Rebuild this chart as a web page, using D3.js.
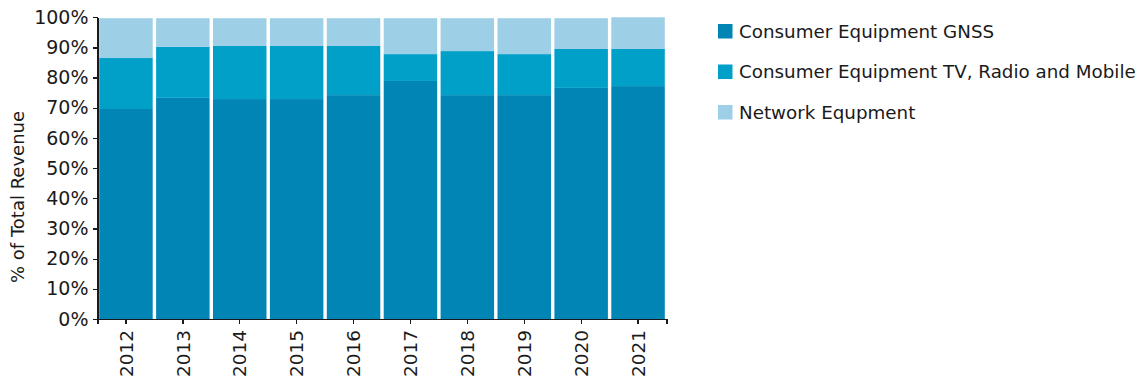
<!DOCTYPE html>
<html>
<head>
<meta charset="utf-8">
<script src="https://cdn.jsdelivr.net/npm/d3@7"></script>
<style>
  html, body { margin: 0; padding: 0; background: #fff; }
  svg { display: block; font-family: "DejaVu Sans", sans-serif; }
  .axis path, .axis line { stroke: #1a1a1a; stroke-width: 1.3; shape-rendering: crispEdges; }
  .axis text { fill: #1a1a1a; font-family: "DejaVu Sans", sans-serif; }
</style>
</head>
<body>
<svg id="chart" width="1143" height="386"></svg>
<script>
// Share of total revenue by market segment, per year (%)
const years = ["2012", "2013", "2014", "2015", "2016", "2017", "2018", "2019", "2020", "2021"];
const seriesNames = ["Consumer Equipment GNSS", "Consumer Equipment TV, Radio and Mobile", "Network Equpment"];
const gnss = [69.6, 73.3, 72.9, 72.9, 74.2, 78.9, 74.2, 74.2, 76.6, 77.2];
const tvRadioMobile = [16.9, 16.9, 17.6, 17.6, 16.3, 8.9, 14.6, 13.6, 12.9, 12.3];
const network = [13.2, 9.5, 9.2, 9.2, 9.2, 11.9, 10.9, 11.9, 10.2, 10.5];
const yTicks = [0, 10, 20, 30, 40, 50, 60, 70, 80, 90, 100];
const colors = ["#0085b5", "#00a0c9", "#9dcfe6"];

const svg = d3.select("#chart");
const plot = { left: 97.5, right: 666.5, top: 17.3, bottom: 319 };

const rows = years.map((y, i) => ({ year: y, s0: gnss[i], s1: tvRadioMobile[i], s2: network[i] }));
const stack = d3.stack().keys(["s0", "s1", "s2"])(rows);

const x = d3.scaleBand().domain(years).range([plot.left, plot.right])
  .paddingInner(0.06).paddingOuter(0.03);
const y = d3.scaleLinear().domain([0, 100]).range([plot.bottom, plot.top]);

// stacked bars
svg.append("g").selectAll("g").data(stack).join("g")
  .attr("fill", (d, i) => colors[i])
  .selectAll("rect").data(d => d).join("rect")
  .attr("x", d => x(d.data.year))
  .attr("width", x.bandwidth())
  .attr("y", d => y(d[1]))
  .attr("height", d => y(d[0]) - y(d[1]));

// y axis
const yAxis = svg.append("g").attr("class", "axis")
  .attr("transform", `translate(${plot.left},0)`)
  .call(d3.axisLeft(y).tickValues(yTicks).tickFormat(d => d + "%").tickSize(5).tickSizeOuter(0).tickPadding(4));
yAxis.selectAll("text").style("font-size", "19px");

// x axis
const xAxis = svg.append("g").attr("class", "axis")
  .attr("transform", `translate(0,${plot.bottom})`)
  .call(d3.axisBottom(x).tickSize(5).tickSizeOuter(5));
xAxis.selectAll("text")
  .style("font-size", "18.5px")
  .attr("text-anchor", "end")
  .attr("transform", "rotate(-90)")
  .attr("x", -11)
  .attr("y", 0)
  .attr("dy", "0.36em");

// y axis title
svg.append("text")
  .attr("transform", "translate(24,197) rotate(-90)")
  .attr("text-anchor", "middle")
  .attr("fill", "#1a1a1a")
  .style("font-size", "18px")
  .text("% of Total Revenue");

// legend
const legend = svg.append("g").attr("transform", "translate(718,31)");
const item = legend.selectAll("g").data(seriesNames).join("g")
  .attr("transform", (d, i) => `translate(0,${i * 40.5})`);
item.append("rect").attr("x", 0).attr("y", -7).attr("width", 14.5).attr("height", 14.5)
  .attr("fill", (d, i) => colors[i]);
item.append("text").attr("x", 21).attr("y", 0).attr("dy", "0.36em")
  .attr("fill", "#1a1a1a")
  .style("font-size", "18.3px")
  .text(d => d);
</script>
</body>
</html>
